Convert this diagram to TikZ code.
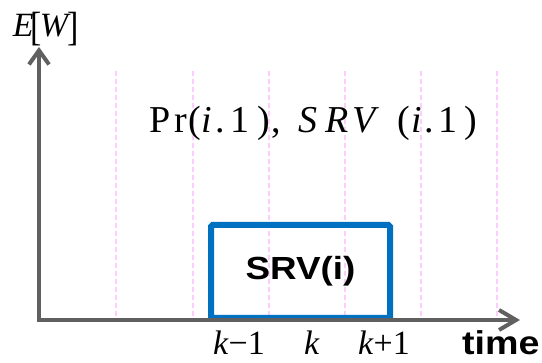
\documentclass[tikz,border=0pt]{standalone}
\usepackage{fontspec}
\usepackage{graphicx}
\setmainfont{Liberation Serif}
\newfontfamily\boxfont[FakeStretch=1.15]{Liberation Sans}
\newfontfamily\timefont[FakeStretch=1.14]{Liberation Sans}
\usetikzlibrary{arrows.meta}
\definecolor{axisgray}{HTML}{606060}
\definecolor{boxblue}{HTML}{0070C0}
\definecolor{gridpink}{HTML}{FFCCFF}
\begin{document}
\begin{tikzpicture}[x=1pt,y=-1pt,
  axisline/.style={draw=axisgray,line width=4pt},
  gridline/.style={draw=gridpink,line width=1.5pt,dash pattern=on 5pt off 3pt},
  srvbox/.style={draw=boxblue,line width=6pt,rounded corners=1.5pt,minimum width=179pt,
    minimum height=93pt,inner sep=0pt,font=\boxfont\bfseries\fontsize{32}{32}\selectfont},
  serif34/.style={font=\fontsize{34}{34}\selectfont,inner sep=0pt},
  titlestyle/.style={font=\fontsize{38}{38}\selectfont,inner sep=0pt},
  timestyle/.style={font=\timefont\bfseries\fontsize{33}{33}\selectfont,inner sep=0pt}]
\useasboundingbox (0,0) rectangle (542,363);
% grid lines
\foreach \x [count=\i] in {116,193,269,345,421,497} {
  \coordinate (gt\i) at (\x,71);
  \coordinate (gb\i) at (\x,320);
  \draw[gridline] (gt\i) -- (gb\i);
}
% box
\node[srvbox] (srv) at (300.5,271.5) {SRV(i)};
% axes
\coordinate (origin) at (39,320);
\coordinate (ytop) at (39,47);
\coordinate (xend) at (520,320);
\draw[axisline,{Straight Barb[length=14pt,width=20pt]}-{Straight Barb[length=17pt,width=20pt]}] (ytop) -- (origin) -- (xend);
% labels
\node[serif34,anchor=base] (ew) at (46,37) {\textit{E}\kern-3pt\raisebox{-4pt}{\scalebox{1}[1.2]{[}}\kern-2pt\textit{W}\kern-3pt\raisebox{-4pt}{\scalebox{1}[1.2]{]}}};
\node[titlestyle,anchor=base west] (title) at (149,132.5) {P\kern4pt r\kern1.3pt(\kern0.8pt\textit{i}\kern2.9pt.\kern6pt 1\kern7.8pt)\kern1.3pt,\kern18pt\textit{S\kern7.2pt R\kern4.2pt V}\kern17.8pt(\kern1.3pt\textit{i}\kern2.3pt.\kern4.5pt 1\kern7.5pt)};
\node[serif34,anchor=base] (km1) at (239,355) {\textit{k}−1};
\node[serif34,anchor=base] (k) at (312,355) {\textit{k}};
\node[serif34,anchor=base] (kp1) at (384,355) {\textit{k}+1};
\node[timestyle,anchor=base west] (time) at (462,355) {time};
\end{tikzpicture}
\end{document}
